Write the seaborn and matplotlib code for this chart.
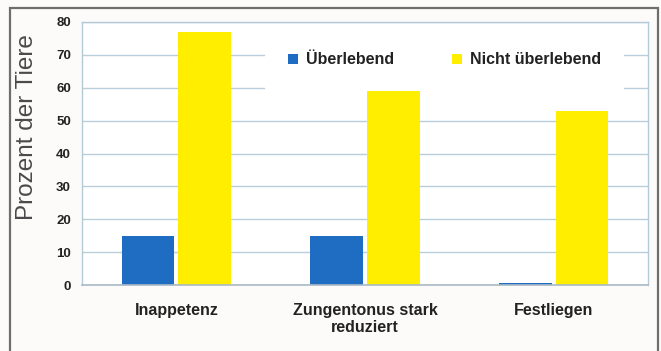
import matplotlib
matplotlib.use("Agg")
import matplotlib.pyplot as plt
import seaborn as sns
import pandas as pd
from matplotlib.patches import Rectangle

categories = ["Inappetenz", "Zungentonus stark\nreduziert", "Festliegen"]
series_names = ["Überlebend", "Nicht überlebend"]
ueberlebend = [15, 15, 0.5]
nicht_ueberlebend = [77, 59, 53]
y_ticks = [0, 10, 20, 30, 40, 50, 60, 70, 80]
colors = ["#1F6DC3", "#FFEE00"]

df = pd.DataFrame({
    "Kategorie": categories * 2,
    "Status": [series_names[0]] * 3 + [series_names[1]] * 3,
    "Wert": ueberlebend + nicht_ueberlebend,
})

sns.set_theme(style="white")
plt.rcParams["font.family"] = ["Liberation Sans", "DejaVu Sans"]

fig = plt.figure(figsize=(6.61, 3.51), dpi=100)
fig.patch.set_facecolor("#FDFBFA")
ax = fig.add_axes([82 / 661, 1 - 285 / 351, (648 - 82) / 661, (285 - 22) / 351])
ax.set_facecolor("white")

sns.barplot(data=df, x="Kategorie", y="Wert", hue="Status", hue_order=series_names,
            palette=colors, width=0.6, gap=0.07, saturation=1, ax=ax,
            edgecolor="none", linewidth=0)

grid_c = "#B9CEDA"
ax.set_ylim(0, 80)
ax.set_yticks(y_ticks)
ax.set_xlim(-0.5, 2.5)
ax.yaxis.grid(True, color=grid_c, linewidth=1.0)
ax.set_axisbelow(True)
for s in ["left", "right", "top"]:
    ax.spines[s].set_color("#B3CBD8")
    ax.spines[s].set_linewidth(1.0)
ax.spines["bottom"].set_color("#A9B9C4")
ax.spines["bottom"].set_linewidth(1.2)

ax.tick_params(axis="y", length=3, width=1, color=grid_c, pad=5,
               labelsize=9.5, labelcolor="#222222")
ax.tick_params(axis="x", length=0, pad=13, labelsize=11.5, labelcolor="#222222")
for t in ax.get_yticklabels() + ax.get_xticklabels():
    t.set_fontweight("bold")

ax.set_xlabel("")
ax.set_ylabel("Prozent der Tiere", fontsize=17.5, color="#4A4A4A")
ax.yaxis.set_label_coords((38 - 82) / 566, (285 - 127) / 263)

leg = ax.legend(loc="center", bbox_to_anchor=((257 + 632) / 2 / 661, 1 - 60 / 351),
                bbox_transform=fig.transFigure, ncol=2, frameon=True,
                fontsize=11.5, handlelength=0.65, handleheight=0.65,
                handletextpad=0.5, columnspacing=3.6, borderpad=0.5)
leg.get_frame().set_facecolor("white")
leg.get_frame().set_edgecolor("none")
leg.get_frame().set_alpha(1)
leg.get_frame().set_boxstyle("square", pad=0.9)
for t in leg.get_texts():
    t.set_fontweight("bold")
    t.set_color("#222222")

fig.patches.append(Rectangle((10 / 661, -0.05), (658 - 10) / 661, 1 - 8 / 351 + 0.05,
                             transform=fig.transFigure, fill=False,
                             edgecolor="#6E6E6E", linewidth=1.6))

fig.savefig("out.png", dpi=100, facecolor=fig.get_facecolor())
